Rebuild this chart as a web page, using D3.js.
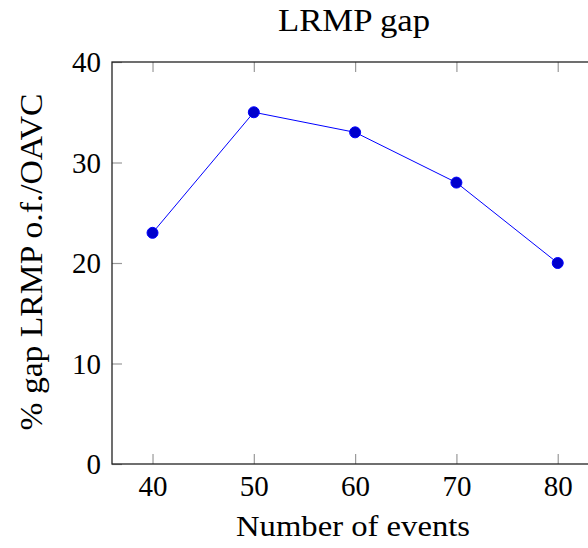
<!DOCTYPE html>
<html>
<head>
<meta charset="utf-8">
<script src="https://cdn.jsdelivr.net/npm/d3@7"></script>
<style>
  body { margin: 0; background: #fff; }
  text { font-family: "Liberation Serif", "DejaVu Serif", serif; fill: #000; }
</style>
</head>
<body>
<div id="chart"></div>
<script>
// data
var events = [40, 50, 60, 70, 80];
var gap = [23, 35, 33, 28, 20];
var xTicks = [40, 50, 60, 70, 80];
var yTicks = [0, 10, 20, 30, 40];

var w = 588,
    h = 548,
    padLeft = 112,
    padTop = 62,
    padBottom = 464;

var svg = d3.select("#chart")
            .append("svg")
            .attr("width", w)
            .attr("height", h);

// x goes a bit past the window on the right, like the original
var xScale = d3.scaleLinear().domain([36, 84]).range([padLeft, padLeft + 4.8 * 101.3]),
    yScale = d3.scaleLinear().domain([0, 40]).range([padBottom, padTop]);

var tickLen = 10;

// ticks (inward, mirrored top/bottom)
var xAxisB = d3.axisBottom(xScale).tickValues(xTicks).tickSize(-tickLen).tickPadding(11).tickFormat(d3.format("d"));
var xAxisT = d3.axisTop(xScale).tickValues(xTicks).tickSize(-tickLen).tickFormat("");
var yAxisL = d3.axisLeft(yScale).tickValues(yTicks).tickSize(-tickLen).tickPadding(11).tickFormat(d3.format("d"));

function styleAxis(g){
  g.select(".domain").remove();
  g.selectAll(".tick line").attr("stroke", "#999").attr("stroke-width", 1.2);
  g.selectAll(".tick text").attr("font-size", 29).attr("font-family", "Liberation Serif, serif").attr("fill", "#000");
}

svg.append("g").attr("class", "xb").attr("transform", "translate(0," + padBottom + ")").call(xAxisB).call(styleAxis);
svg.append("g").attr("transform", "translate(0," + padTop + ")").call(xAxisT).call(styleAxis);
svg.append("g").attr("class", "yl").attr("transform", "translate(" + padLeft + ",0)").call(yAxisL).call(styleAxis);

svg.selectAll(".xb .tick text").attr("dy", "0.71em");
svg.selectAll(".yl .tick text").attr("dy", "0.34em");

// frame (right side is off screen)
svg.append("rect")
   .attr("x", xScale(36))
   .attr("y", yScale(40))
   .attr("width", xScale(84) - xScale(36))
   .attr("height", yScale(0) - yScale(40))
   .attr("fill", "none")
   .attr("stroke", "#222")
   .attr("stroke-width", 1.3);

var pts = events.map(function(e, i){ return {x: e, y: gap[i]}; });

var line = d3.line()
  .x(function(d){ return xScale(d.x); })
  .y(function(d){ return yScale(d.y); });

svg.append("path")
   .datum(pts)
   .attr("fill", "none")
   .attr("stroke", "#0000ff")
   .attr("stroke-width", 1)
   .attr("d", line);

svg.selectAll("circle")
   .data(pts)
   .enter()
   .append("circle")
   .attr("cx", function(d){ return xScale(d.x); })
   .attr("cy", function(d){ return yScale(d.y); })
   .attr("r", 5.5)
   .attr("fill", "#0000cc")
   .attr("stroke", "#0000ff")
   .attr("stroke-width", 1);

// title and labels, stretched a bit to the width of the original font
svg.append("text")
   .attr("x", 354)
   .attr("y", 31)
   .attr("text-anchor", "middle")
   .attr("font-size", 32)
   .attr("textLength", 152)
   .attr("lengthAdjust", "spacingAndGlyphs")
   .text("LRMP gap");

svg.append("text")
   .attr("x", 353)
   .attr("y", 536)
   .attr("text-anchor", "middle")
   .attr("font-size", 29)
   .attr("textLength", 234)
   .attr("lengthAdjust", "spacingAndGlyphs")
   .text("Number of events");

svg.append("text")
   .attr("transform", "translate(42,262) rotate(-90)")
   .attr("text-anchor", "middle")
   .attr("font-size", 31)
   .attr("textLength", 337)
   .attr("lengthAdjust", "spacingAndGlyphs")
   .text("% gap LRMP o.f./OAVC");
</script>
</body>
</html>
